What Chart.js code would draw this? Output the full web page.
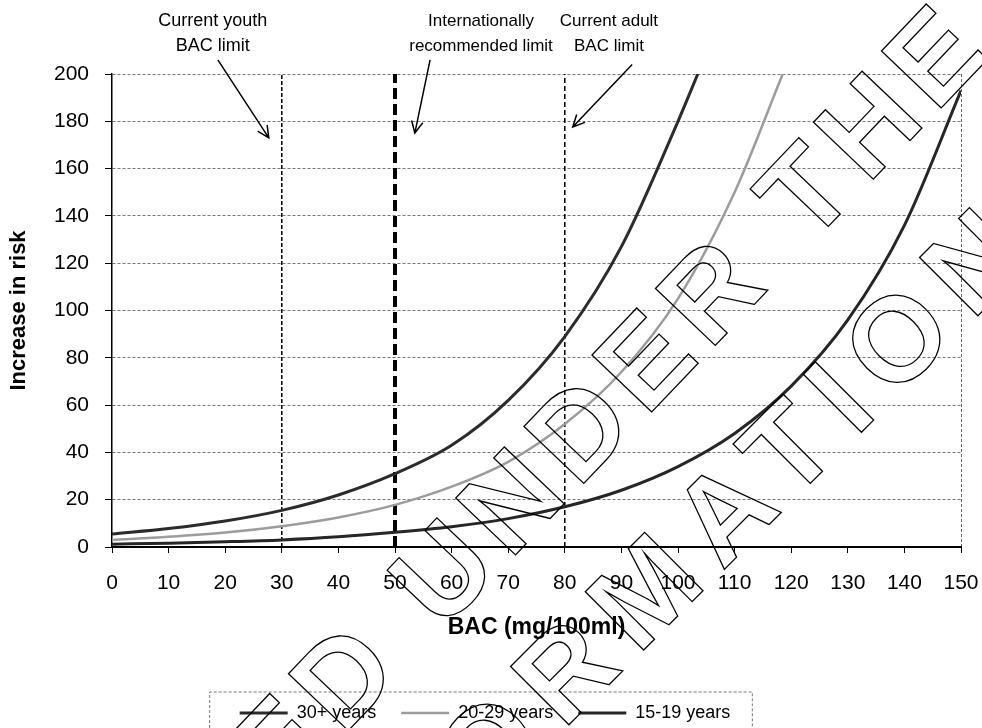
<!DOCTYPE html>
<html>
<head>
<meta charset="utf-8">
<script src="https://cdn.jsdelivr.net/npm/chart.js@4.4.0/dist/chart.umd.min.js"></script>
<style>
  html, body { margin: 0; padding: 0; background: #fff; }
</style>
</head>
<body>
<canvas id="chart" width="982" height="728"></canvas>
<script>
// BAC (mg/100ml) vs increase in crash risk
const bac30 = [0, 10, 20, 30, 40, 50, 60, 70, 80, 90, 100, 103.5]
const risk30 = [5.5, 7.8, 11, 15.5, 22, 31, 43, 62, 89, 127, 180, 200]

const bac20 = [0, 10, 20, 30, 40, 50, 60, 70, 80, 90, 100, 110, 118.5]
const risk20 = [3, 4.3, 6.1, 8.8, 12.5, 17.8, 25.5, 36, 52, 74, 105, 150, 200]

const bac15 = [0, 10, 20, 30, 40, 50, 60, 70, 80, 90, 100, 110, 120, 130, 140, 150]
const risk15 = [1.2, 1.6, 2.2, 3, 4.3, 6.2, 8.6, 12, 17, 24, 34, 48, 68, 96, 136, 193]

const seriesNames = ['30+ years', '20-29 years', '15-19 years']

// the three limit lines
const limitBAC = [30, 50, 80]
const noteLines = [['Current youth', 'BAC limit'], ['Internationally', 'recommended limit'], ['Current adult', 'BAC limit']]

// where the notes and arrows sit (in axis units)
const noteCenterX = [17.8, 65.2, 87.8]
const noteFontSize = [18, 17, 17]
const arrowFrom = [[18.7, 206], [56.2, 206], [91.9, 204]]
const arrowTo = [[27.7, 173], [53.5, 175], [81.4, 177.6]]

const FONT = '"Liberation Sans", Arial, sans-serif'
Chart.defaults.font.family = FONT
Chart.defaults.color = '#000'

const toPoints = (xs, ys) => xs.map((x, i) => ({ x: x, y: ys[i] }))

const seriesStyle = [
    { color: '#2b2b2b', width: 3 },
    { color: '#9c9c9c', width: 2.5 },
    { color: '#262626', width: 3 },
]
const limitStyle = [
    { width: 1.5, dash: [4, 2] },
    { width: 4, dash: [11, 5] },
    { width: 1.5, dash: [5, 3] },
]

let datasets = [
    toPoints(bac30, risk30),
    toPoints(bac20, risk20),
    toPoints(bac15, risk15),
].map((pts, i) => ({
    label: seriesNames[i],
    data: pts,
    borderColor: seriesStyle[i].color,
    backgroundColor: seriesStyle[i].color,
    borderWidth: seriesStyle[i].width,
    pointRadius: 0,
    cubicInterpolationMode: 'monotone',
    fill: false,
}))

limitBAC.forEach((v, i) => {
    datasets.push({
        label: 'limit ' + v,
        data: [{ x: v, y: 0 }, { x: v, y: 200 }],
        borderColor: '#000',
        borderWidth: limitStyle[i].width,
        borderDash: limitStyle[i].dash,
        pointRadius: 0,
        fill: false,
    })
})

const gridDash = (c) => c.type === 'tick' ? [3, 2] : []

const extras = {
    id: 'extras',
    afterDraw(chart) {
        const ctx = chart.ctx
        const xs = chart.scales.x
        const ys = chart.scales.y

        // notes + arrows
        ctx.save()
        ctx.fillStyle = '#000'
        ctx.strokeStyle = '#000'
        ctx.textAlign = 'center'
        ctx.textBaseline = 'alphabetic'
        noteLines.forEach((lines, i) => {
            ctx.font = noteFontSize[i] + 'px ' + FONT
            const cx = xs.getPixelForValue(noteCenterX[i])
            ctx.fillText(lines[0], cx, 26)
            ctx.fillText(lines[1], cx, 51)

            const x0 = xs.getPixelForValue(arrowFrom[i][0])
            const y0 = ys.getPixelForValue(arrowFrom[i][1])
            const x1 = xs.getPixelForValue(arrowTo[i][0])
            const y1 = ys.getPixelForValue(arrowTo[i][1])
            ctx.lineWidth = 1.5
            ctx.beginPath()
            ctx.moveTo(x0, y0)
            ctx.lineTo(x1, y1)
            const a = Math.atan2(y1 - y0, x1 - x0)
            ctx.moveTo(x1 - 13 * Math.cos(a - 0.45), y1 - 13 * Math.sin(a - 0.45))
            ctx.lineTo(x1, y1)
            ctx.lineTo(x1 - 13 * Math.cos(a + 0.45), y1 - 13 * Math.sin(a + 0.45))
            ctx.stroke()
        })
        ctx.restore()

        // box round the legend
        const lg = chart.legend
        const hb = lg.legendHitBoxes
        if (hb && hb.length) {
            const left = hb[0].left - 30
            const right = hb[hb.length - 1].left + hb[hb.length - 1].width + 22
            const top = lg.top + 13
            ctx.save()
            ctx.strokeStyle = '#777'
            ctx.lineWidth = 1
            ctx.setLineDash([3, 2])
            ctx.beginPath()
            ctx.moveTo(left, chart.height + 5)
            ctx.lineTo(left, top)
            ctx.lineTo(right, top)
            ctx.lineTo(right, chart.height + 5)
            ctx.stroke()
            ctx.restore()
        }

        // the stamp across the page
        const stamp = (text, anchor, cx, cy, spacing, angle) => {
            ctx.save()
            ctx.font = 'bold 120px ' + FONT
            ctx.letterSpacing = spacing + 'px'
            const pre = ctx.measureText(text.slice(0, anchor)).width
            const ch = ctx.measureText(text[anchor]).width - spacing
            ctx.translate(cx, cy)
            ctx.rotate(angle)
            ctx.textAlign = 'left'
            ctx.textBaseline = 'middle'
            ctx.strokeStyle = '#000'
            ctx.lineWidth = 1.3
            ctx.strokeText(text, -(pre + ch / 2), 0)
            ctx.restore()
        }
        stamp('RELEASED UNDER THE', 9, 448, 578, 12, -0.81)
        stamp('OFFICIAL INFORMATION ACT', 14, 650, 597, 19, -Math.PI / 4)
    }
}

new Chart(document.getElementById('chart'), {
    type: 'line',
    data: { datasets: datasets },
    options: {
        responsive: false,
        animation: false,
        layout: { padding: { left: 0, right: 12, top: 74, bottom: -4 } },
        plugins: {
            tooltip: { enabled: false },
            legend: {
                position: 'bottom',
                labels: {
                    filter: (item) => item.datasetIndex < 3,
                    usePointStyle: true,
                    pointStyle: 'line',
                    pointStyleWidth: 48,
                    padding: 25,
                    color: '#000',
                    font: { size: 18 },
                },
            },
        },
        scales: {
            x: {
                type: 'linear',
                min: 0,
                max: 150,
                ticks: { stepSize: 10, maxRotation: 0, autoSkip: false, padding: 18, font: { size: 21 } },
                grid: {
                    color: (c) => c.tick && c.tick.value === 150 ? '#666' : 'rgba(0,0,0,0)',
                    tickColor: '#000',
                    tickLength: 6,
                },
                border: { color: '#000', width: 2, dash: gridDash },
                title: {
                    display: true,
                    text: 'BAC (mg/100ml)',
                    font: { size: 23, weight: 'bold' },
                    padding: { top: 0, bottom: 38 },
                },
                afterFit: (s) => {
                    s.height = 132
                    s.paddingLeft = 0
                    s.paddingRight = 21
                },
            },
            y: {
                min: 0,
                max: 200,
                ticks: { stepSize: 20, padding: 16, font: { size: 21 } },
                grid: { color: '#777', tickColor: '#000', tickLength: 7 },
                border: { color: '#000', width: 1.5, dash: gridDash },
                title: {
                    display: true,
                    text: 'Increase in risk',
                    font: { size: 22, weight: 'bold' },
                    padding: { top: 6, bottom: 0 },
                },
                afterFit: (s) => { s.width = 112 },
            },
        },
    },
    plugins: [extras],
})
</script>
</body>
</html>
